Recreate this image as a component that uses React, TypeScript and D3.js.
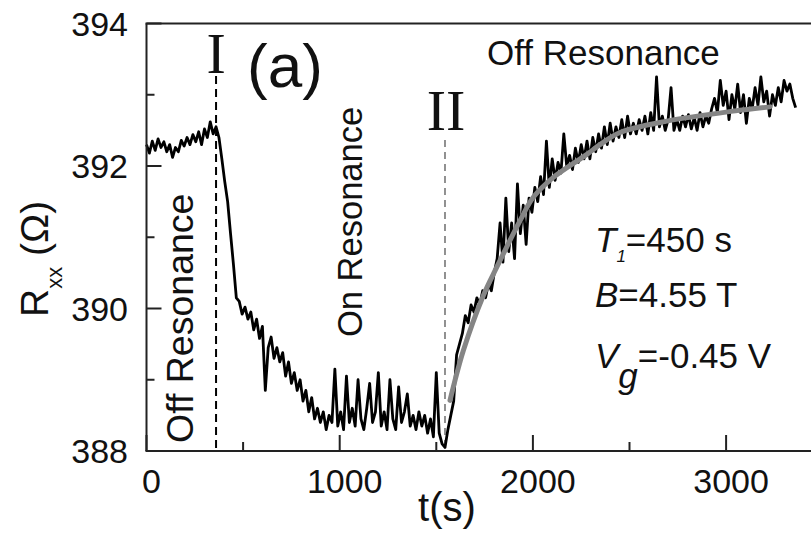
import React from "react";
import * as d3 from "d3";

// Sampling interval of the measured trace (s)
const SAMPLE_DT = 15;
// Rxx (Ohm) every 15 s from t = 0 s
const rxx: number[] = [
  392.30, 392.18, 392.35, 392.22, 392.38, 392.26, 392.34, 392.20, 392.30, 392.12,
  392.26, 392.20, 392.36, 392.28, 392.40, 392.30, 392.44, 392.34, 392.48, 392.30,
  392.52, 392.40, 392.62, 392.45, 392.55, 392.40, 392.10, 391.78, 391.50, 391.05,
  390.62, 390.15, 390.10, 389.92, 390.02, 389.85, 389.95, 389.70, 389.85, 389.58,
  389.75, 388.85, 389.45, 389.60, 389.30, 389.45, 389.25, 389.38, 389.05, 389.25,
  388.95, 389.10, 388.85, 389.00, 388.70, 388.85, 388.55, 388.75, 388.45, 388.60,
  388.40, 388.55, 388.30, 388.50, 388.40, 389.15, 388.35, 388.55, 388.30, 389.05,
  388.40, 388.60, 388.35, 389.00, 388.45, 388.30, 388.60, 388.95, 388.40, 388.55,
  389.10, 388.35, 388.55, 388.30, 389.00, 388.45, 388.30, 388.90, 388.40, 388.55,
  388.80, 388.35, 388.50, 388.30, 388.55, 388.35, 388.50, 388.25, 388.45, 388.20,
  389.10, 388.25, 388.10, 388.05, 388.30, 388.50, 388.70, 389.35, 389.50, 389.65,
  389.90, 389.80, 390.05, 389.95, 390.15, 390.05, 390.25, 390.15, 390.35, 390.25,
  390.50, 390.70, 391.20, 390.65, 391.55, 390.80, 391.20, 390.70, 391.75, 391.05,
  391.45, 390.90, 391.55, 391.35, 391.70, 391.50, 391.85, 391.60, 392.35, 391.70,
  392.10, 391.80, 392.05, 391.90, 392.45, 392.00, 392.15, 391.95, 392.25, 392.05,
  392.30, 392.10, 392.35, 392.10, 392.40, 392.20, 392.45, 392.25, 392.55, 392.30,
  392.60, 392.35, 392.55, 392.40, 392.65, 392.40, 392.70, 392.45, 392.60, 392.45,
  392.65, 392.50, 392.70, 392.45, 392.75, 392.50, 393.25, 392.55, 392.70, 392.50,
  392.65, 393.10, 392.50, 392.65, 392.50, 392.70, 392.55, 392.72, 392.52, 392.68,
  392.50, 392.75, 392.55, 392.70, 392.60, 392.80, 392.95, 392.75, 393.20, 392.85,
  393.05, 392.65, 393.00, 392.80, 393.15, 392.75, 393.00, 392.60, 392.95, 392.80,
  393.10, 392.85, 393.25, 392.90, 393.05, 392.70, 393.00, 392.85, 393.10, 392.90,
  393.20, 393.05, 393.15, 392.95, 392.82,
];

// Exponential recovery fit (grey curve)
const fitT: number[] = [1571, 1640, 1743, 1813, 1933, 2002, 2106, 2278, 2347, 2451, 2693, 3037, 3227];
const fitR: number[] = [388.71, 389.41, 390.18, 390.58, 391.23, 391.56, 391.84, 392.16, 392.30, 392.47, 392.63, 392.77, 392.83];

const xMajorTicks: number[] = [0, 1000, 2000, 3000];
const xMinorTicks: number[] = [500, 1500, 2500];
const yMajorTicks: number[] = [388, 390, 392, 394];
const yMinorTicks: number[] = [389, 391, 393];

const markerI = 360;
const markerII = 1545;

const W = 811;
const H = 538;

export default function App() {
  const x = d3.scaleLinear().domain([0, 3500]).range([146.5, 146.5 + 3500 * 0.1932]);
  const y = d3.scaleLinear().domain([388, 394]).range([451, 23.5]);

  const trace = rxx.map((r, i) => [i * SAMPLE_DT, r] as [number, number]);
  const line = d3
    .line<[number, number]>()
    .x((d) => x(d[0]))
    .y((d) => y(d[1]));
  const fitLine = d3
    .line<[number, number]>()
    .x((d) => x(d[0]))
    .y((d) => y(d[1]))
    .curve(d3.curveCatmullRom.alpha(0.5));
  const fitPts = fitT.map((t, i) => [t, fitR[i]] as [number, number]);

  const sans = "'Liberation Sans', Arial, Helvetica, sans-serif";
  const serif = "'Liberation Serif', 'Times New Roman', serif";
  const axisColor = "#222";
  const x0 = x(0);
  const yb = y(388);
  const yt = y(394);

  return (
    <svg
      width={W}
      height={H}
      viewBox={`0 0 ${W} ${H}`}
      style={{ position: "absolute", left: 0, top: 0, background: "#fff" }}
    >
      <rect x={0} y={0} width={W} height={H} fill="#fff" />

      {/* dashed markers */}
      <line x1={x(markerI)} x2={x(markerI)} y1={76} y2={yb} stroke="#000" strokeWidth={2} strokeDasharray="8,5" />
      <line x1={x(markerII)} x2={x(markerII)} y1={140} y2={yb} stroke="#777" strokeWidth={1.6} strokeDasharray="7,5" />

      {/* data trace */}
      <path d={line(trace) || ""} fill="none" stroke="#000" strokeWidth={2.8} strokeLinejoin="round" />
      {/* fit */}
      <path d={fitLine(fitPts) || ""} fill="none" stroke="#858585" strokeWidth={5} strokeLinecap="round" />

      {/* frame */}
      <line x1={x0} x2={x0} y1={yt} y2={yb} stroke={axisColor} strokeWidth={2} />
      <line x1={x0 - 1} x2={W} y1={yb} y2={yb} stroke={axisColor} strokeWidth={2} />
      <line x1={x0 - 1} x2={W} y1={yt} y2={yt} stroke={axisColor} strokeWidth={2} />

      {/* y ticks */}
      {yMajorTicks.map((v) => (
        <g key={"ym" + v}>
          <line x1={x0} x2={x0 + 15} y1={y(v)} y2={y(v)} stroke={axisColor} strokeWidth={2} />
          <text x={128} y={y(v)} dy="0.36em" textAnchor="end" fontFamily={sans} fontSize={34} fill="#111">
            {v}
          </text>
        </g>
      ))}
      {yMinorTicks.map((v) => (
        <line key={"yn" + v} x1={x0} x2={x0 + 8} y1={y(v)} y2={y(v)} stroke={axisColor} strokeWidth={2} />
      ))}

      {/* x ticks */}
      {xMajorTicks.map((v) => (
        <g key={"xm" + v}>
          <line x1={x(v)} x2={x(v)} y1={yb} y2={yb - 16} stroke={axisColor} strokeWidth={2} />
          <text x={x(v) + 5} y={493} textAnchor="middle" fontFamily={sans} fontSize={34} fill="#111">
            {v}
          </text>
        </g>
      ))}
      {xMinorTicks.map((v) => (
        <line key={"xn" + v} x1={x(v)} x2={x(v)} y1={yb} y2={yb - 9} stroke={axisColor} strokeWidth={2} />
      ))}

      {/* axis titles */}
      <text x={447} y={521} textAnchor="middle" fontFamily={sans} fontSize={40} fill="#111">
        t(s)
      </text>
      <text transform="translate(48,317) rotate(-90)" fontFamily={sans} fontSize={39} fill="#111">
        <tspan>R</tspan>
        <tspan fontSize={22} dy={14}>xx</tspan>
        <tspan dy={-14}> (Ω)</tspan>
      </text>

      {/* markers labels */}
      <text x={x(markerI)} y={73} textAnchor="middle" fontFamily={serif} fontSize={58} fill="#111">
        I
      </text>
      <text x={446} y={130} textAnchor="middle" fontFamily={serif} fontSize={58} fill="#111">
        II
      </text>
      <text x={247} y={87} fontFamily={sans} fontSize={62} fill="#111">
        (a)
      </text>

      {/* region labels */}
      <text transform="translate(193,443) rotate(-90)" fontFamily={sans} fontSize={37.5} fill="#111">
        Off Resonance
      </text>
      <text transform="translate(362,337) rotate(-90)" fontFamily={sans} fontSize={34.5} fill="#111">
        On Resonance
      </text>
      <text x={487} y={65} fontFamily={sans} fontSize={35} fill="#111">
        Off Resonance
      </text>

      {/* parameters */}
      <text x={595} y={252} fontFamily={sans} fontSize={35} fill="#111">
        <tspan fontStyle="italic">T</tspan>
        <tspan fontStyle="italic" fontSize={17} dy={10}>1</tspan>
        <tspan dy={-10}>=450 s</tspan>
      </text>
      <text x={595} y={307} fontFamily={sans} fontSize={35} fill="#111">
        <tspan fontStyle="italic">B</tspan>
        <tspan>=4.55 T</tspan>
      </text>
      <text x={595} y={368} fontFamily={sans} fontSize={35} fill="#111">
        <tspan fontStyle="italic">V</tspan>
        <tspan fontStyle="italic" dy={20}>g</tspan>
        <tspan dy={-20}>=-0.45 V</tspan>
      </text>
    </svg>
  );
}
